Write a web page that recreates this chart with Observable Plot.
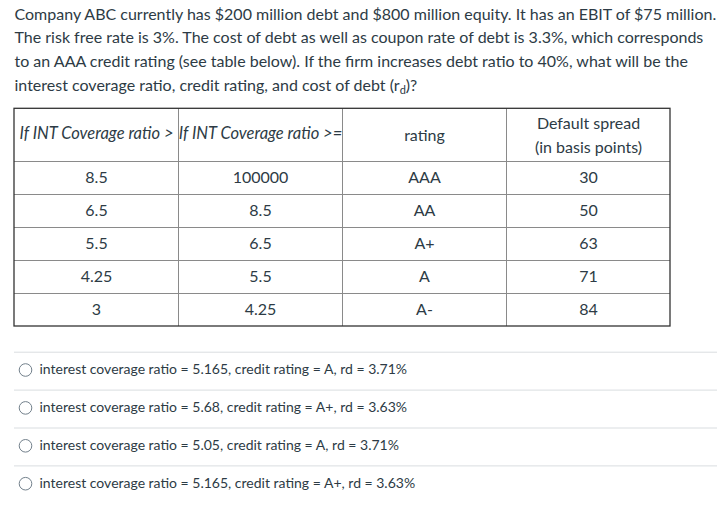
<!DOCTYPE html>
<html>
<head>
<meta charset="utf-8">
<script src="https://cdn.jsdelivr.net/npm/d3@7"></script>
<script src="https://cdn.jsdelivr.net/npm/@observablehq/plot@0.6"></script>
<style>
  html, body { margin: 0; padding: 0; background: #fff; }
  svg { display: block; }
</style>
</head>
<body>
<div id="chart"></div>
<script>
// ---- content ----
const questionLines = [
  "Company ABC currently has $200 million debt and $800 million equity. It has an EBIT of $75 million.",
  "The risk free rate is 3%. The cost of debt as well as coupon rate of debt is 3.3%, which corresponds",
  "to an AAA credit rating (see table below). If the firm increases debt ratio to 40%, what will be the",
  "interest coverage ratio, credit rating, and cost of debt (r_d)?"
];
const headers = ["If INT Coverage ratio >", "If INT Coverage ratio >=", "rating", "Default spread\n(in basis points)"];
const lowerBounds = ["8.5", "6.5", "5.5", "4.25", "3"];
const upperBounds = ["100000", "8.5", "6.5", "5.5", "4.25"];
const ratings = ["AAA", "AA", "A+", "A", "A-"];
const spreads = [30, 50, 63, 71, 84];
const choices = [
  "interest coverage ratio = 5.165, credit rating = A, rd = 3.71%",
  "interest coverage ratio = 5.68, credit rating = A+, rd = 3.63%",
  "interest coverage ratio = 5.05, credit rating = A, rd = 3.71%",
  "interest coverage ratio = 5.165, credit rating = A+, rd = 3.63%"
];

// ---- layout ----
const W = 723, H = 508;
const textColor = "#2d3b45";
const left = 14;
const qTop = 14, qStep = 23.7;
const tableTop = 108.3, headerH = 52.7, rowH = 33, colW = 164, nCols = 4;
const rowsTop = tableTop + headerH;
const tableBottom = rowsTop + rowH * lowerBounds.length;
const tableRight = left + colW * nCols;
const optTop = 351.7, optStep = 37.9, optRight = 717;

const qData = questionLines.map((t, i) => ({t, x: left, y: qTop + i * qStep}));
const headData = headers.map((t, j) => ({t, x: left + colW * (j + 0.5), y: tableTop + headerH / 2 - 1.5, italic: j < 2}));
const columns = [lowerBounds, upperBounds, ratings, spreads];
const cellData = [];
columns.forEach((col, j) => col.forEach((v, i) => cellData.push({
  t: String(v), x: left + colW * (j + 0.5), y: rowsTop + rowH * (i + 0.5)
})));
const innerH = [rowsTop, ...lowerBounds.slice(1).map((_, i) => rowsTop + rowH * (i + 1))];
const innerV = d3.range(1, nCols).map(j => left + colW * j);
const sepY = choices.map((_, i) => optTop + i * optStep);
const optData = choices.map((t, i) => ({t, y: optTop + i * optStep + 17.8}));

const chart = Plot.plot({
  width: W, height: H, margin: 0,
  x: {domain: [0, W], range: [0, W], axis: null},
  y: {domain: [0, H], range: [0, H], axis: null},
  style: {fontFamily: "Lato, 'Noto Sans', sans-serif", background: "#fff", color: textColor},
  marks: [
    // question
    Plot.text(qData, {x: "x", y: "y", text: "t", textAnchor: "start", fontSize: 16, fill: textColor}),
    // table inner lines
    Plot.ruleY(innerH, {x1: left, x2: tableRight, stroke: "#8a8a8a", strokeWidth: 1}),
    Plot.ruleX(innerV, {y1: tableTop, y2: tableBottom, stroke: "#8a8a8a", strokeWidth: 1}),
    // outer border
    Plot.rect([0], {x1: left, x2: tableRight, y1: tableTop, y2: tableBottom, fill: "none", stroke: "#333", strokeWidth: 1.3}),
    // headers
    Plot.text(headData.filter(d => d.italic), {x: "x", y: "y", text: "t", fontSize: 16.5, fontStyle: "italic", fill: textColor}),
    Plot.text(headData.filter(d => !d.italic), {x: "x", y: "y", text: "t", fontSize: 16, lineHeight: 1.5, fill: textColor}),
    // cells
    Plot.text(cellData, {x: "x", y: "y", text: "t", fontSize: 16, fill: textColor}),
    // options
    Plot.ruleY(sepY, {x1: left, x2: optRight, stroke: "#d9dde0", strokeWidth: 1}),
    Plot.dot(optData, {x: left + 11, y: "y", r: 6.3, stroke: "#73818c", strokeWidth: 1, fill: "#fff"}),
    Plot.text(optData, {x: left + 25, y: "y", text: "t", textAnchor: "start", fontSize: 14, fill: textColor})
  ]
});

// subscript for r_d
d3.select(chart).selectAll("text").each(function() {
  const el = d3.select(this);
  const s = el.text();
  if (s.includes("(r_d)")) {
    const [a, b] = s.split("r_d");
    el.text("");
    el.append("tspan").text(a + "r");
    el.append("tspan").attr("font-size", "11").attr("dy", "3").text("d");
    el.append("tspan").attr("dy", "-3").text(b);
  }
});

document.getElementById("chart").appendChild(chart);
</script>
</body>
</html>
